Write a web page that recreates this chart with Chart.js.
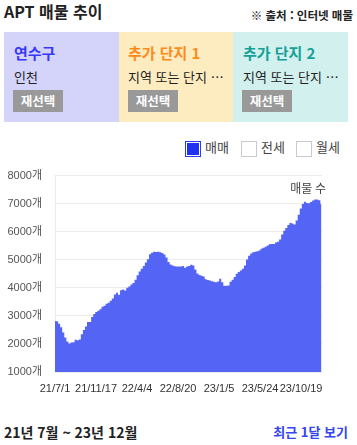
<!DOCTYPE html>
<html lang="ko">
<head>
<meta charset="utf-8">
<script src="https://cdn.jsdelivr.net/npm/chart.js@4"></script>
<style>
  html, body { margin: 0; padding: 0; background: #fff; }
  body { width: 357px; height: 445px; position: relative; overflow: hidden;
         font-family: "Noto Sans CJK KR", "Noto Sans", sans-serif; color: #222; }
  .abs { position: absolute; white-space: nowrap; }
  #title { left: 4px; top: 0px; font-size: 16px; font-weight: bold; line-height: 22px; }
  #source { right: 4px; top: 6px; font-size: 11.5px; font-weight: bold; line-height: 18px; color: #222; }
  .panel { position: absolute; top: 32px; height: 90px; width: 115px; }
  .ptitle { position: absolute; left: 10px; top: 10px; font-size: 15px; font-weight: bold; line-height: 22px; }
  .psub { position: absolute; left: 10px; top: 35px; font-size: 13px; line-height: 20px; color: #222; }
  .pbtn { position: absolute; left: 9px; top: 58px; width: 50px; height: 22px; background: #999;
          color: #fff; font-size: 12.5px; font-weight: bold; line-height: 22px; text-align: center; }
  .lbox { position: absolute; top: 141px; width: 14px; height: 14px; border: 1px solid #c9c9d2; background: #fff; }
  .ltext { position: absolute; top: 137px; font-size: 13px; line-height: 20px; color: #444; }
  #chartWrap { position: absolute; left: 0; top: 156px; width: 357px; height: 244px; }
  #chartWrap canvas { display: block; }
  #range { left: 4px; top: 421px; font-size: 14px; font-weight: bold; line-height: 22px; color: #222; }
  #recent { right: 9px; top: 421px; font-size: 13px; font-weight: bold; line-height: 22px; color: #3346f0; }
</style>
</head>
<body>
<div id="title" class="abs">APT 매물 추이</div>
<div id="source" class="abs">※ 출처 : 인터넷 매물</div>

<div class="panel" style="left:4px;background:#d4d4fb;">
  <div class="ptitle" style="color:#3737f7;">연수구</div>
  <div class="psub">인천</div>
  <div class="pbtn">재선택</div>
</div>
<div class="panel" style="left:119px;width:114px;background:#feecc1;">
  <div class="ptitle" style="left:9px;color:#ff8a1c;">추가 단지 1</div>
  <div class="psub" style="left:9px;">지역 또는 단지 …</div>
  <div class="pbtn" style="left:9px;">재선택</div>
</div>
<div class="panel" style="left:233px;background:#d2f0ee;">
  <div class="ptitle" style="color:#16a096;">추가 단지 2</div>
  <div class="psub">지역 또는 단지 …</div>
  <div class="pbtn" style="left:9px;">재선택</div>
</div>

<div class="lbox" style="left:185px;border-color:#2a3cf0;background:#1f33f0;box-shadow: inset 0 0 0 1px #fff;"></div>
<div class="ltext" style="left:205px;">매매</div>
<div class="lbox" style="left:241px;"></div>
<div class="ltext" style="left:261px;">전세</div>
<div class="lbox" style="left:296px;"></div>
<div class="ltext" style="left:316px;">월세</div>

<div id="chartWrap"><canvas id="c" width="357" height="244"></canvas></div>

<div id="range" class="abs">21년 7월 ~ 23년 12월</div>
<div id="recent" class="abs">최근 1달 보기</div>

<script>
// record index (x position of each sample along the date axis)
const recordIdx = [
  0, 7, 14, 21, 28, 35, 42, 49, 56, 63,
  70, 77, 84, 91, 98, 105, 112, 119, 126, 133,
  140, 147, 154, 161, 168, 175, 182, 189, 196, 203,
  210, 217, 224, 231, 238, 245, 252, 259, 266, 273,
  280, 287, 294, 301, 308, 315, 322, 329, 336, 343,
  350, 357, 364, 371, 378, 385, 392, 399, 406, 413,
  420, 427, 434, 441, 448, 455, 462, 469, 476, 483,
  490, 497, 504, 511, 518, 525, 532, 539, 546, 553,
  560, 567, 574, 581, 588, 595, 602, 609, 616, 623,
  630, 637, 644, 651, 658, 665, 672, 679, 686, 693,
  700, 707, 714, 721, 728, 735, 742, 749, 756, 763,
  770, 777, 784, 791, 798, 805, 812, 819, 826, 833,
  840, 847, 854, 861, 868, 875, 882, 889, 896, 903
];
// number of listings (매물 수) at each sample
const listings = [
  2820, 2810, 2720, 2595, 2410, 2230, 2090, 2020, 2055, 2060,
  2150, 2130, 2160, 2345, 2500, 2619, 2786, 2786, 2960, 3070,
  3140, 3179, 3240, 3330, 3357, 3430, 3464, 3536, 3619, 3760,
  3821, 3750, 3910, 3940, 3905, 4000, 4050, 4120, 4170, 4286,
  4450, 4580, 4680, 4780, 4900, 5020, 5200, 5250, 5290, 5280,
  5290, 5270, 5238, 5190, 5080, 4920, 4830, 4795, 4770, 4762,
  4762, 4762, 4780, 4720, 4760, 4774, 4820, 4800, 4650, 4510,
  4460, 4430, 4405, 4310, 4280, 4260, 4235, 4215, 4200, 4230,
  4320, 4200, 4070, 4070, 4080, 4220, 4290, 4390, 4500, 4560,
  4620, 4680, 4800, 5010, 5140, 5220, 5265, 5290, 5305, 5330,
  5390, 5425, 5460, 5510, 5555, 5560, 5560, 5620, 5640, 5720,
  5900, 6030, 6130, 6240, 6310, 6295, 6260, 6400, 6607, 6830,
  6990, 7071, 7020, 7012, 7060, 7110, 7145, 7150, 7119, 6980
];
// x-axis tick positions and labels
const tickIdx = [0, 139, 278, 417, 556, 695, 834];
const tickLabels = ['21/7/1', '21/11/17', '22/4/4', '22/8/20', '23/1/5', '23/5/24', '23/10/19'];
// y-axis ticks
const yTicks = [1000, 2000, 3000, 4000, 5000, 6000, 7000, 8000];
const yUnit = '개';
const seriesName = '매물 수';

const points = recordIdx.map((x, i) => ({ x: x, y: listings[i] }));

const cornerLabel = {
  id: 'cornerLabel',
  afterDraw(chart) {
    const { ctx, chartArea } = chart;
    ctx.save();
    ctx.font = '12px "Noto Sans CJK KR"';
    ctx.fillStyle = '#444';
    ctx.textAlign = 'right';
    ctx.textBaseline = 'middle';
    ctx.fillText(seriesName, chartArea.right + 4, chartArea.top + 13);
    ctx.restore();
  }
};

const tickFont = { family: '"Liberation Sans", "Noto Sans CJK KR", sans-serif', size: 11 };

new Chart(document.getElementById('c'), {
  type: 'line',
  data: {
    datasets: [{
      label: seriesName,
      data: points,
      stepped: 'middle',
      fill: 'start',
      backgroundColor: 'rgb(84, 101, 246)',
      borderColor: 'rgb(84, 101, 246)',
      borderWidth: 0,
      pointRadius: 0
    }]
  },
  options: {
    responsive: false,
    animation: false,
    events: [],
    layout: { padding: { top: 12, right: 35, left: 0, bottom: 0 } },
    plugins: { legend: { display: false }, tooltip: { enabled: false } },
    scales: {
      x: {
        type: 'linear',
        min: 0,
        max: 905,
        grid: { display: false, drawTicks: false },
        border: { display: false },
        afterBuildTicks(scale) { scale.ticks = tickIdx.map(v => ({ value: v })); },
        afterFit(scale) { scale.height = 28; },
        ticks: {
          autoSkip: false,
          maxRotation: 0,
          padding: 10,
          color: '#333',
          font: tickFont,
          callback(value) { const i = tickIdx.indexOf(value); return i >= 0 ? tickLabels[i] : ''; }
        }
      },
      y: {
        min: 1000,
        max: 8000,
        grid: { color: '#ebebeb', drawTicks: false },
        border: { display: true, color: '#ebebeb' },
        afterBuildTicks(scale) { scale.ticks = yTicks.map(v => ({ value: v })); },
        afterFit(scale) { scale.width = 55; },
        ticks: {
          padding: 13,
          color: '#555',
          font: tickFont,
          callback(value) { return value + yUnit; }
        }
      }
    }
  },
  plugins: [cornerLabel]
});
</script>
</body>
</html>
